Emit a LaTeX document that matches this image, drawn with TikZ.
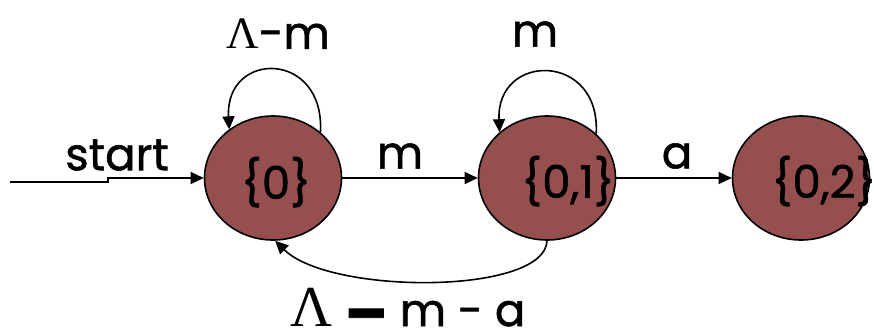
\documentclass[tikz,border=0pt]{standalone}
\usepackage{fontspec}
\setmainfont[FakeBold=1.2]{Poppins}
\newfontfamily\lamfont{Liberation Serif}
\usetikzlibrary{shapes.geometric,arrows.meta}
\definecolor{statefill}{RGB}{149,79,78}
\begin{document}
\begin{tikzpicture}[x=1pt,y=-1pt,
  state/.style={ellipse,draw=black,line width=1.6pt,fill=statefill,minimum width=137pt,minimum height=124pt,inner sep=0pt},
  stxt/.style={font=\fontsize{45}{45}\selectfont,inner sep=0pt},
  lbl/.style={font=\fontsize{45}{45}\selectfont,inner sep=0pt},
  edge/.style={line width=1.6pt,-{Triangle[length=13pt,width=12pt]}}]
\useasboundingbox (0,0) rectangle (874,331);
\begin{scope}
\clip (0,0) rectangle (874,331);
\node[state] (e0) at (273,178) {};
\node[state] (e1) at (547,178) {};
\node[state] (e2) at (801,178) {};
\node[stxt] (t0) at (276,182) {\{0\}};
\node[stxt] (t1) at (568,181) {\{0,1\}};
\node[stxt] (t2) at (824,181) {\{0,2\}};
\coordinate (s0) at (10,182);
\coordinate (s1) at (108,178);
\draw[edge] (s0) -| (s1) -- (e0.west);
\node[lbl] (lstart) at (117,155) {start};
\draw[edge] (e0.east) -- (e1.west);
\node[lbl] (lm) at (400,156) {m};
\draw[edge] (e1.east) -- (e2.west);
\node[lbl] (la) at (677,156) {a};
\draw[edge] (e0.44) .. controls (325,50) and (225,50) .. (e0.132);
\node[lbl] (ll0) at (278,34) {{\lamfont Λ}-m};
\draw[edge] (e1.42) .. controls (601,52) and (496,52) .. (e1.136);
\node[lbl] (ll1) at (535,34) {m};
\draw[edge] (e1.270) .. controls (545,295) and (330,295) .. (e0.-88);
\node[lbl,anchor=base] (lb) at (408,326) {{\lamfont\fontsize{58}{58}\selectfont Λ} \raisebox{-9pt}{\fontsize{62}{62}\selectfont\textbf{–}} m - a};
\end{scope}
\end{tikzpicture}
\end{document}
